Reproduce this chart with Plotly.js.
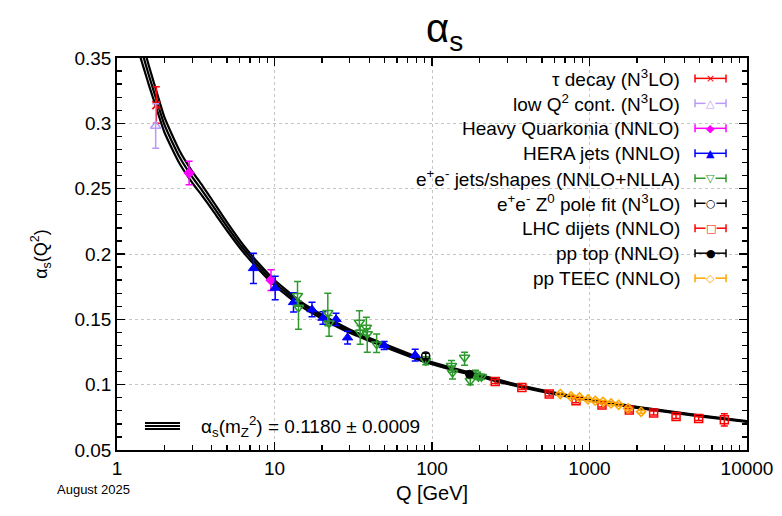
<!DOCTYPE html>
<html>
<head>
<meta charset="utf-8">
<script src="https://cdn.plot.ly/plotly-3.0.1.min.js"></script>
<style>html,body{margin:0;padding:0;background:#fff;}#chart{width:782px;height:516px;}</style>
</head>
<body>
<div id="chart"></div>
<script>
// ---- running coupling band ----
const bandQ      = [1.35, 1.4, 1.48, 1.6, 1.78, 2, 2.5, 3, 3.5, 4, 5, 6.35, 8, 10, 15, 20, 30, 50, 91.2, 150, 200, 300, 500, 1000, 2000, 5000, 10000];
const bandCenter = [0.366, 0.360, 0.350, 0.336, 0.318, 0.299, 0.274, 0.259, 0.248, 0.238, 0.221, 0.204, 0.190, 0.178, 0.161, 0.152, 0.141, 0.130, 0.118, 0.1105, 0.1068, 0.1012, 0.0952, 0.0884, 0.0826, 0.0762, 0.0718];
const bandUpper  = [0.375, 0.3685, 0.3579, 0.3433, 0.3245, 0.3048, 0.2789, 0.2633, 0.2520, 0.2417, 0.2242, 0.2067, 0.1923, 0.1801, 0.1627, 0.1535, 0.1423, 0.1311, 0.1189, 0.1113, 0.1075, 0.1019, 0.0958, 0.0889, 0.0830, 0.0766, 0.0721];
const bandLower  = [0.357, 0.3515, 0.3421, 0.3287, 0.3115, 0.2932, 0.2691, 0.2547, 0.2440, 0.2343, 0.2178, 0.2013, 0.1877, 0.1759, 0.1593, 0.1505, 0.1397, 0.1289, 0.1171, 0.1097, 0.1061, 0.1005, 0.0946, 0.0879, 0.0822, 0.0758, 0.0715];

// ---- measurements ----
const tauQ = [1.777];           const tauA = [0.314];  const tauEp = [0.014]; const tauEm = [0.014];
const lowQ = [1.76];            const lowA = [0.298];  const lowEp = [0.017]; const lowEm = [0.017];
const hqQ  = [2.87, 9.5];       const hqA  = [0.262, 0.180]; const hqEp = [0.009, 0.008]; const hqEm = [0.009, 0.008];
const heraQ  = [7.35, 10.1, 13.2, 17.3, 20.3, 24.6, 29.1, 49.7, 78.2];
const heraA  = [0.189, 0.174, 0.163, 0.1575, 0.151, 0.150, 0.136, 0.130, 0.1227];
const heraE  = [0.0115, 0.009, 0.0074, 0.0055, 0.0048, 0.0047, 0.0048, 0.003, 0.0045];
const eeQ  = [14.0, 14.2, 21.8, 22.2, 34.6, 35.0, 38.3, 38.8, 44.5, 91.2, 133, 135, 161, 175, 189, 197, 206];
const eeA  = [0.168, 0.159, 0.155, 0.147, 0.1476, 0.140, 0.1438, 0.1388, 0.131, 0.1183, 0.1145, 0.1093, 0.1208, 0.103, 0.108, 0.106, 0.106];
const eeEp = [0.011, 0.005, 0.015, 0.006, 0.009, 0.005, 0.0077, 0.004, 0.0077, 0.003, 0.004, 0.005, 0.004, 0.003, 0.003, 0.002, 0.002];
const eeEm = [0.008, 0.0165, 0.010, 0.010, 0.006, 0.009, 0.006, 0.014, 0.0064, 0.003, 0.005, 0.005, 0.006, 0.003, 0.003, 0.002, 0.002];
const zQ = [91.2];  const zA = [0.122];  const zE = [0.002];
const dijQ = [252, 372, 555, 821, 1200, 1790, 2554, 3545, 4933, 7180];
const dijA = [0.1024, 0.0979, 0.0928, 0.0877, 0.0844, 0.0806, 0.0783, 0.0757, 0.0741, 0.0731];
const dijE = [0.0015, 0.0015, 0.0015, 0.0015, 0.0015, 0.0015, 0.0015, 0.0015, 0.0015, 0.0047];
const topQ = [173]; const topA = [0.108]; const topE = [0.002];
const teecQ = [653, 763, 865, 978, 1088, 1218, 1370, 1531, 1757, 2125];
const teecA = [0.0928, 0.0910, 0.0902, 0.0887, 0.0877, 0.0869, 0.0856, 0.0846, 0.0818, 0.0792];
const teecE = [0.001, 0.001, 0.001, 0.001, 0.001, 0.001, 0.001, 0.001, 0.001, 0.001];

const xTickVals = [1, 10, 100, 1000, 10000];
const xTickText = ['1', '10', '100', '1000', '10000'];

const legendNames = [
  'τ decay (N<sup>3</sup>LO)',
  'low Q<sup>2</sup> cont. (N<sup>3</sup>LO)',
  'Heavy Quarkonia (NNLO)',
  'HERA jets (NNLO)',
  'e<sup>+</sup>e<sup>-</sup> jets/shapes (NNLO+NLLA)',
  'e<sup>+</sup>e<sup>-</sup> Z<sup>0</sup> pole fit (N<sup>3</sup>LO)',
  'LHC dijets (NNLO)',
  'pp top (NNLO)',
  'pp TEEC (NNLO)'
];
const legendGlyphs = ['×', '△', '◆', '▲', '▽', '○', '□', '●', '◇'];
const legendOpen   = [false, true, false, false, true, true, true, false, true];
const colors = ['#ff0000', '#b99af7', '#ff00ff', '#0000ff', '#2e9a2e', '#000000', '#ff0000', '#000000', '#ffa500'];

const FONT = 'Liberation Sans, Arial, Helvetica, sans-serif';

// minor tick positions of the log axis (2..9 in each decade)
const xMinor = [];
for (let d = 1; d < 10000; d *= 10) { for (let k = 2; k <= 9; k++) xMinor.push(k * d); }

function bandLine(y) {
  return {x: bandQ, y: y, type: 'scatter', mode: 'lines', line: {color: '#000', width: 2.2, shape: 'spline', smoothing: 0.6}, hoverinfo: 'skip', showlegend: false};
}
function meas(x, y, ep, em, color, symbol, size, lw) {
  return {
    x: x, y: y, type: 'scatter', mode: 'markers', showlegend: false,
    marker: {color: color, symbol: symbol, size: size, line: {color: color, width: lw}},
    error_y: {type: 'data', symmetric: false, array: ep, arrayminus: em, color: color, thickness: 1.5, width: 3.5}
  };
}

const traces = [
  bandLine(bandUpper), bandLine(bandLower), bandLine(bandCenter),
  meas(tauQ, tauA, tauEp, tauEm, colors[0], 'x-thin-open', 8, 1.8),
  meas(lowQ, lowA, lowEp, lowEm, colors[1], 'triangle-up-open', 9, 1.5),
  meas(hqQ, hqA, hqEp, hqEm, colors[2], 'diamond', 8, 1),
  meas(heraQ, heraA, heraE, heraE, colors[3], 'triangle-up', 9, 1),
  meas(eeQ, eeA, eeEp, eeEm, colors[4], 'triangle-down-open', 9, 1.5),
  meas(zQ, zA, zE, zE, colors[5], 'circle-open', 8, 1.5),
  meas(dijQ, dijA, dijE, dijE, colors[6], 'square-open', 8, 1.5),
  meas(topQ, topA, topE, topE, colors[7], 'circle', 8, 1),
  meas(teecQ, teecA, teecE, teecE, colors[8], 'diamond-open', 7, 1.5)
];

// ---- manual legend (text left of symbol, as in the reference) ----
const shapes = [];
const annotations = [];
const legTextX = 0.897, legX0 = 0.9175, legX1 = 0.9667, legXc = 0.9421;
const legY0 = 0.948, legStep = 0.0637, capH = 0.0102;
legendNames.forEach((nm, i) => {
  const y = legY0 - i * legStep;
  const c = colors[i];
  shapes.push({type: 'line', xref: 'paper', yref: 'paper', x0: legX0, x1: legX1, y0: y, y1: y, line: {color: c, width: 1.5}});
  shapes.push({type: 'line', xref: 'paper', yref: 'paper', x0: legX0, x1: legX0, y0: y - capH, y1: y + capH, line: {color: c, width: 1.5}});
  shapes.push({type: 'line', xref: 'paper', yref: 'paper', x0: legX1, x1: legX1, y0: y - capH, y1: y + capH, line: {color: c, width: 1.5}});
  annotations.push({xref: 'paper', yref: 'paper', x: legTextX, y: y, xanchor: 'right', yanchor: 'middle', text: nm, showarrow: false, font: {family: FONT, size: 19, color: '#000'}});
  annotations.push({xref: 'paper', yref: 'paper', x: legXc, y: y, xanchor: 'center', yanchor: 'middle', text: legendGlyphs[i], showarrow: false,
    bgcolor: legendOpen[i] ? '#ffffff' : 'rgba(0,0,0,0)', borderpad: 0,
    font: {family: 'DejaVu Sans, sans-serif', size: 11, color: c}});
});
// band key (bottom left)
[-0.0077, 0, 0.0077].forEach(d => {
  shapes.push({type: 'line', xref: 'paper', yref: 'paper', x0: 0.0444, x1: 0.1, y0: 0.0612 + d, y1: 0.0612 + d, line: {color: '#000', width: 2}});
});
annotations.push({xref: 'paper', yref: 'paper', x: 0.130, y: 0.0612, xanchor: 'left', yanchor: 'middle', showarrow: false,
  text: 'α<sub>s</sub>(m<sub>Z</sub><sup>2</sup>) = 0.1180 ± 0.0009', font: {family: FONT, size: 19, color: '#000'}});
annotations.push({xref: 'paper', yref: 'paper', x: -0.038, y: -0.0995, xanchor: 'center', yanchor: 'middle', showarrow: false,
  text: 'August 2025', font: {family: FONT, size: 13, color: '#000'}});

const axisCommon = {
  showline: true, linecolor: '#000', linewidth: 1.8, mirror: 'ticks',
  ticks: 'inside', ticklen: 8, tickwidth: 1.4, tickcolor: '#000',
  showgrid: true, gridcolor: '#c4c4c4', griddash: 'dot', gridwidth: 1,
  zeroline: false, tickfont: {family: FONT, size: 19, color: '#000'}
};

const layout = {
  width: 782, height: 516,
  margin: {l: 117, r: 35, t: 58, b: 66},
  paper_bgcolor: '#fff', plot_bgcolor: '#fff',
  showlegend: false,
  title: {text: 'α<sub>s</sub>', x: 0.52, xref: 'paper', xanchor: 'center', y: 0.945, yanchor: 'middle',
          font: {family: FONT, size: 40, color: '#000'}},
  xaxis: Object.assign({}, axisCommon, {
    type: 'log', range: [0, 4], tickvals: xTickVals, ticktext: xTickText,
    minor: {ticks: 'inside', ticklen: 5, tickwidth: 1.3, tickcolor: '#000', tickvals: xMinor, showgrid: false},
    title: {text: 'Q [GeV]', standoff: 8, font: {family: FONT, size: 20, color: '#000'}}
  }),
  yaxis: Object.assign({}, axisCommon, {
    range: [0.05, 0.35], dtick: 0.05, tick0: 0.05,
    minor: {ticks: 'inside', ticklen: 5, tickwidth: 1.3, tickcolor: '#000', dtick: 0.01, showgrid: false},
    title: {text: 'α<sub>s</sub>(Q<sup>2</sup>)', standoff: 22, font: {family: FONT, size: 18, color: '#000'}}
  }),
  shapes: shapes,
  annotations: annotations
};

Plotly.newPlot('chart', traces, layout, {displayModeBar: false, staticPlot: true});
</script>
</body>
</html>
